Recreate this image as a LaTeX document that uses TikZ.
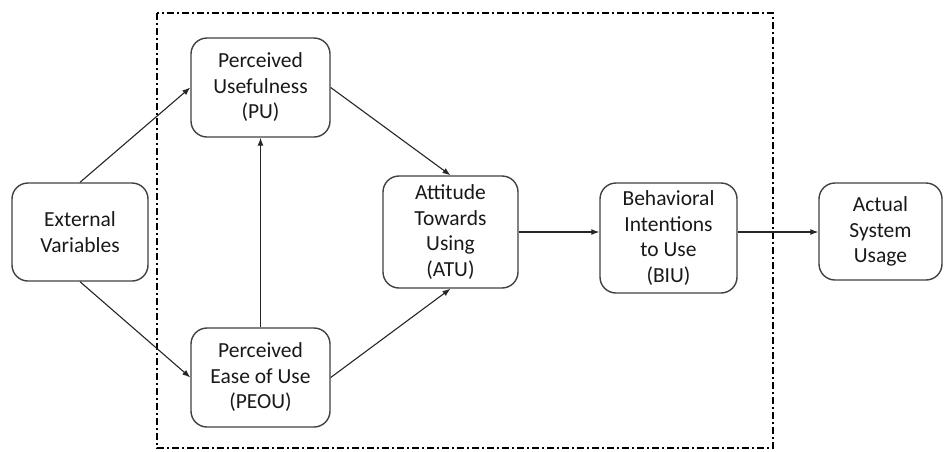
\documentclass[tikz,border=0pt]{standalone}
\usepackage{fontspec}
\setmainfont{Carlito}
\usetikzlibrary{arrows.meta}
\begin{document}
\begin{tikzpicture}[x=1pt,y=-1pt,
  box/.style={draw=black!75, line width=1.4pt, rounded corners=16pt, rectangle,
    align=center, inner sep=0pt, text=black!90,
    font=\fontsize{21.5}{25.5}\selectfont},
  conn/.style={draw=black!85, line width=1.1pt, -{Latex[length=8pt,width=6pt]}},
  frame/.style={draw=black, line width=2.2pt, dash pattern=on 7pt off 3pt on 2pt off 3pt}
]
\useasboundingbox (0,0) rectangle (944,451);
\draw[frame] (157,13) rectangle (773,448);
\node[box, minimum width=136pt, minimum height=98pt] (ext) at (80,232) {External\\Variables};
\node[box, minimum width=139pt, minimum height=99pt] (pu) at (260.5,87.5) {Perceived\\Usefulness\\(PU)};
\node[box, minimum width=139pt, minimum height=99pt] (peou) at (260.5,377.5) {Perceived\\Ease of Use\\(PEOU)};
\node[box, minimum width=135pt, minimum height=112pt] (atu) at (450.5,232) {Attitude\\Towards\\Using\\(ATU)};
\node[box, minimum width=137pt, minimum height=110pt] (biu) at (668.5,238) {Behavioral\\Intentions\\to Use\\(BIU)};
\node[box, minimum width=123pt, minimum height=97pt] (act) at (880.5,231.5) {Actual\\System\\Usage};
\draw[conn] (ext.north) -- (pu.west);
\draw[conn] (ext.south) -- (peou.west);
\draw[conn] (peou.north) -- (pu.south);
\draw[conn] (pu.east) -- (atu.north);
\draw[conn] (peou.east) -- (atu.south);
\draw[conn] (atu.east) -- (atu.east -| biu.west);
\draw[conn] (atu.east -| biu.east) -- (atu.east -| act.west);
\end{tikzpicture}
\end{document}
